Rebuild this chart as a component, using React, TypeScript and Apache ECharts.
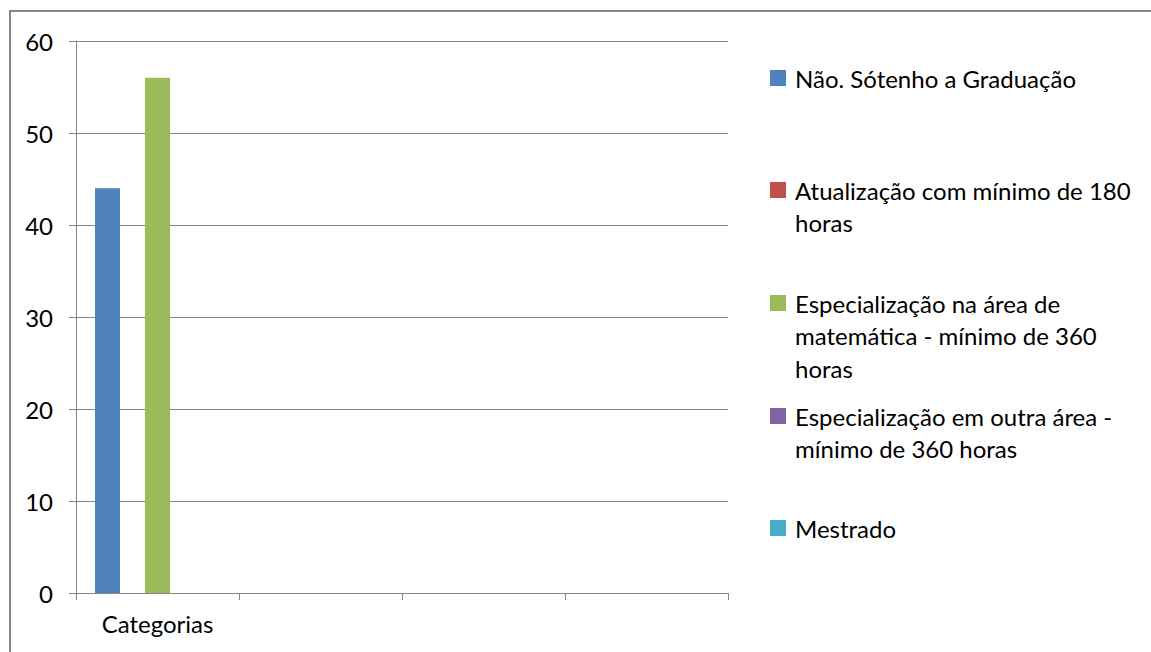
import { useEffect, useRef } from "react";
import * as echarts from "echarts";

// Category axis: only the first slot carries a label
const categories = ["Categorias", "", "", ""];

// Legend text, one entry per series, already split into its display lines
const seriesLines: string[][] = [
  ["Não. Sótenho a Graduação"],
  ["Atualização com mínimo de 180", "horas"],
  ["Especialização na área de", "matemática - mínimo de 360", "horas"],
  ["Especialização em outra área -", "mínimo de 360 horas"],
  ["Mestrado"],
];

const naoSoGraduacao = [44, null, null, null];
const atualizacao180 = [0, null, null, null];
const especializacaoMatematica = [56, null, null, null];
const especializacaoOutra = [0, null, null, null];
const mestrado = [0, null, null, null];

const seriesValues = [
  naoSoGraduacao,
  atualizacao180,
  especializacaoMatematica,
  especializacaoOutra,
  mestrado,
];

const seriesColors = ["#4F81BD", "#C0504D", "#9BBB59", "#8064A2", "#4BACC6"];

const yMin = 0;
const yMax = 60;
const yStep = 10;

const FONT = "Lato, 'Noto Sans', sans-serif";
const FONT_SIZE = 24;
const AXIS_GRAY = "#868686";
const LINE_H = 32.5;
const LEGEND_ICON = 16;
// vertical centre of each legend swatch (first text line)
const legendCenters = [78, 190, 303, 416, 528];

export default function App() {
  const ref = useRef<HTMLDivElement>(null);

  useEffect(() => {
    if (!ref.current) return;
    const chart = echarts.init(ref.current, undefined, { renderer: "svg" });

    const names = seriesLines.map((l) => l.join(" "));

    // Legend text is centred on its swatch, so blank leading lines keep the
    // swatch level with the first line of a wrapped entry.
    const legends = seriesLines.map((lines, i) => {
      const n = lines.length;
      const text = " \n".repeat(n - 1) + lines.join("\n");
      return {
        data: [names[i]],
        orient: "vertical" as const,
        left: 770,
        top: legendCenters[i] - ((2 * n - 1) * LINE_H) / 2,
        padding: 0,
        icon: "rect",
        itemWidth: LEGEND_ICON,
        itemHeight: LEGEND_ICON,
        selectedMode: false,
        formatter: () => text,
        textStyle: {
          fontFamily: FONT,
          fontSize: FONT_SIZE,
          color: "#000",
          lineHeight: LINE_H,
          padding: [0, 0, 0, 4],
        },
      };
    });

    chart.setOption({
      animation: false,
      backgroundColor: "#fff",
      grid: { left: 76, top: 41, width: 652, height: 552, containLabel: false },
      legend: legends,
      xAxis: {
        type: "category",
        data: categories,
        axisLine: { show: true, lineStyle: { color: AXIS_GRAY, width: 1 } },
        axisTick: { show: true, length: 7, lineStyle: { color: AXIS_GRAY } },
        axisLabel: {
          interval: 0,
          margin: 18,
          color: "#000",
          fontFamily: FONT,
          fontSize: FONT_SIZE,
        },
        splitLine: { show: false },
      },
      yAxis: {
        type: "value",
        min: yMin,
        max: yMax,
        interval: yStep,
        axisLine: { show: true, lineStyle: { color: AXIS_GRAY, width: 1 } },
        axisTick: { show: true, length: 7, lineStyle: { color: AXIS_GRAY } },
        axisLabel: {
          margin: 23,
          color: "#000",
          fontFamily: FONT,
          fontSize: FONT_SIZE,
        },
        splitLine: { show: true, lineStyle: { color: AXIS_GRAY, width: 1 } },
      },
      series: seriesValues.map((vals, i) => ({
        type: "bar",
        name: names[i],
        data: vals,
        barWidth: 25,
        barGap: "0%",
        itemStyle: { color: seriesColors[i] },
      })),
      graphic: [
        {
          type: "rect",
          shape: { x: 10, y: 11, width: 1400, height: 1000 },
          style: { fill: "none", stroke: AXIS_GRAY, lineWidth: 2 },
          silent: true,
          z: 100,
        },
      ],
    });

    return () => chart.dispose();
  }, []);

  return (
    <div
      ref={ref}
      style={{ position: "fixed", left: 0, top: 0, width: 1151, height: 652, background: "#fff" }}
    />
  );
}
